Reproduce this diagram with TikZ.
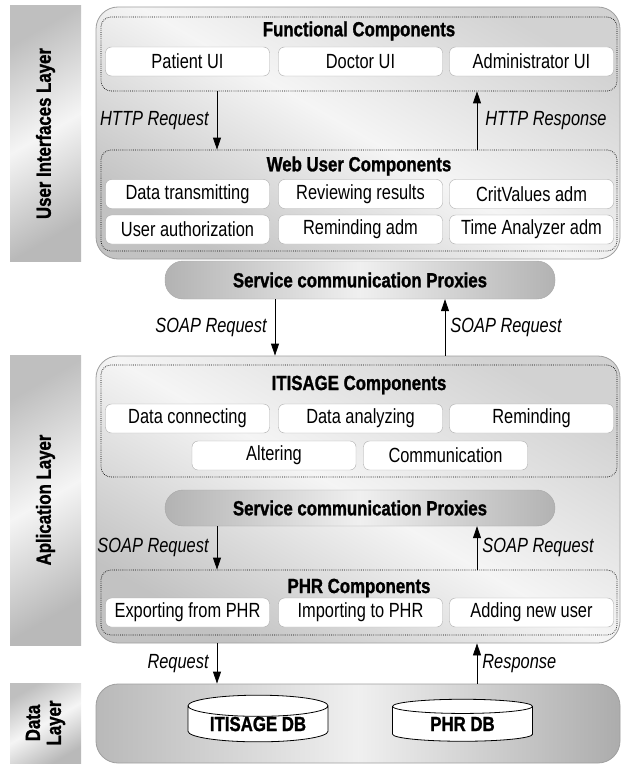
\documentclass[tikz,border=0pt]{standalone}
\usepackage{fontspec}
\setmainfont[FakeStretch=0.8]{Liberation Sans}
\newfontfamily\headfont[FakeStretch=0.82,FakeBold=1.2]{Liberation Sans}
\newcommand\bigsize{\fontsize{20.5pt}{23pt}\selectfont}
\usetikzlibrary{arrows.meta,positioning,shapes.geometric,calc}
\tikzset{
  font={\bigsize}}

\begin{document}
\begin{tikzpicture}[x=1pt,y=-1pt,
    block_layer/.style ={rectangle, draw=none, rotate=90, inner sep=0pt,
      top color=gray!50, bottom color=gray!55, middle color=gray!8, shading angle=30,
      minimum height=71pt, align=center, font=\headfont\bfseries\fontsize{20.5pt}{21pt}\selectfont},
    block_main/.style ={rectangle, rounded corners=22pt, draw=gray!75, thick,
      top color=gray!35, bottom color=gray!48, middle color=gray!8, shading angle=-30,
      minimum width=524pt, inner sep=0pt},
    block_group/.style ={rectangle, rounded corners=10pt, draw=black, line width=0.7pt,
      dash pattern=on 0.7pt off 1.2pt, minimum width=516pt, inner sep=0pt},
    block_item/.style ={rectangle, rounded corners=6pt, draw=gray!65, fill=white,
      minimum width=164pt, minimum height=29pt, inner sep=0pt},
    block_title/.style ={inner sep=0pt, font=\headfont\bfseries\bigsize},
    block_proxy/.style ={rectangle, rounded corners=18pt, draw=gray!70,
      left color=gray!60, right color=gray!60, middle color=gray!12,
      minimum width=390pt, inner sep=0pt, font=\headfont\bfseries\bigsize},
    block_db/.style ={cylinder, shape border rotate=90, aspect=0.22, draw, thick,
      fill=white, minimum width=140pt, minimum height=42pt, inner sep=0pt,
      font=\headfont\bfseries\bigsize},
    conn/.style={draw, line width=0.8pt, -{Triangle[width=8pt,length=12pt]}},
    conn_label/.style={inner sep=1pt, font=\bigsize\itshape}]
    \useasboundingbox (0,0) rectangle (622,765);
    % side labels
    \node[block_layer, minimum width=255pt] (l_ui) at (45.5,133.5) {User Interfaces Layer};
    \node[block_layer, minimum width=290pt] (l_app) at (45.5,500) {Aplication Layer};
    \node[block_layer, minimum width=80pt] (l_data) at (45.5,723) {Data\\Layer};
    % layer boxes
    \node[block_main, minimum height=252pt] (ui) at (358,133) {};
    \node[block_main, minimum height=287pt] (app) at (358,499.5) {};
    \node[block_main, minimum height=79pt, left color=gray!55, right color=gray!65,
      middle color=gray!12] (data) at (358,723.5) {};
    % user interfaces layer
    \node[block_group, minimum height=74pt] (fc) at (359,54) {};
    \node[block_title] (fc_t) at (359,31) {Functional Components};
    \node[block_item] (fc1) at (187.5,61.5) {Patient UI};
    \node[block_item] (fc2) at (360.5,61.5) {Doctor UI};
    \node[block_item] (fc3) at (531.5,61.5) {Administrator UI};
    \node[block_group, minimum height=101pt] (wuc) at (359,200.5) {};
    \node[block_title] (wuc_t) at (359,166) {Web User Components};
    \node[block_item] (wuc1) at (187.5,194) {Data transmitting};
    \node[block_item] (wuc2) at (360.5,194) {Reviewing results};
    \node[block_item] (wuc3) at (531.5,194) {CritValues adm};
    \node[block_item] (wuc4) at (187.5,229.5) {User authorization};
    \node[block_item] (wuc5) at (360.5,229.5) {Reminding adm};
    \node[block_item] (wuc6) at (531.5,229.5) {Time Analyzer adm};
    % proxies
    \node[block_proxy, minimum height=38pt] (prx1) at (360,280) {Service communication Proxies};
    % application layer
    \node[block_group, minimum height=112pt] (itc) at (359,421) {};
    \node[block_title] (itc_t) at (359,385) {ITISAGE Components};
    \node[block_item] (itc1) at (187.5,418.5) {Data connecting};
    \node[block_item] (itc2) at (360.5,418.5) {Data analyzing};
    \node[block_item] (itc3) at (531.5,418.5) {Reminding};
    \node[block_item] (itc4) at (274,455.5) {Altering};
    \node[block_item] (itc5) at (445.5,455.5) {Communication};
    \node[block_proxy, minimum height=36pt] (prx2) at (360,508) {Service communication Proxies};
    \node[block_group, minimum height=65pt] (phr) at (359,602.5) {};
    \node[block_title] (phr_t) at (359,588) {PHR Components};
    \node[block_item] (phr1) at (187.5,612.5) {Exporting from PHR};
    \node[block_item] (phr2) at (360.5,612.5) {Importing to PHR};
    \node[block_item] (phr3) at (531.5,612.5) {Adding new user};
    % data layer
    \node[block_db] (db1) at (258,724) {ITISAGE DB};
    \node[block_db] (db2) at (462.5,724) {PHR DB};
    % arrow columns
    \coordinate (colL) at (217,0);
    \coordinate (colR) at (477,0);
    \coordinate (colL2) at (275,0);
    \coordinate (colR2) at (445,0);
    % connecting nodes with paths
    \draw[conn] (fc.south -| colL) -- (wuc.north -| colL)
      node[midway, left=7pt, conn_label] {HTTP Request};
    \draw[conn] (wuc.north -| colR) -- (fc.south -| colR)
      node[midway, right=7pt, conn_label] {HTTP Response};
    \draw[conn] (prx1.south -| colL2) -- (app.north -| colL2)
      node[midway, left=7pt, conn_label] {SOAP Request};
    \draw[conn] (app.north -| colR2) -- (prx1.south -| colR2)
      node[midway, right=4pt, conn_label] {SOAP Request};
    \draw[conn] (prx2.south -| colL) -- (phr.north -| colL)
      node[midway, left=7pt, conn_label] {SOAP Request};
    \draw[conn] (phr.north -| colR) -- (prx2.south -| colR)
      node[midway, right=4pt, conn_label] {SOAP Request};
    \draw[conn] (app.south -| colL) -- (data.north -| colL)
      node[midway, left=7pt, conn_label] {Request};
    \draw[conn] (data.north -| colR) -- (app.south -| colR)
      node[midway, right=4pt, conn_label] {Response};
\end{tikzpicture}
\end{document}
